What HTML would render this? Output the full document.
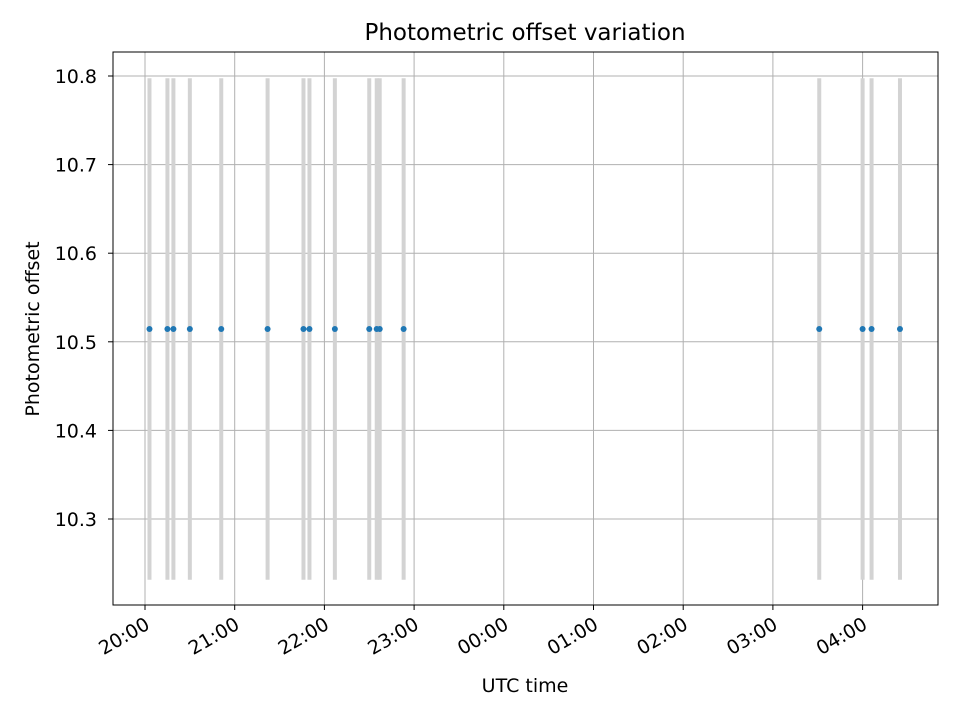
<!DOCTYPE html>
<html><head><meta charset="utf-8"><style>
body{margin:0;background:#fff;}
svg text{font-family:"DejaVu Sans","Liberation Sans",sans-serif;}
</style></head><body>
<svg id="chart" width="960" height="720" viewBox="0 0 960 720">
<rect x="0" y="0" width="960" height="720" fill="#fff"/>
<text x="525" y="40" text-anchor="middle" font-size="23">Photometric offset variation</text>
<g id="grid"></g><g id="marks"></g><g id="axes"></g>
<text x="525" y="692" text-anchor="middle" font-size="19">UTC time</text>
<text transform="translate(39,329) rotate(-90)" text-anchor="middle" font-size="19">Photometric offset</text>
</svg>
<script>
// minutes after 20:00 UTC
const times=[3,15,19,30,51,82,106,110,127,150,155,157,173,451,480,486,505];
const offsets=[10.5145,10.5145,10.5145,10.5145,10.5145,10.5145,10.5145,10.5145,10.5145,10.5145,10.5145,10.5145,10.5145,10.5145,10.5145,10.5145,10.5145];
const errors=[0.283,0.283,0.283,0.283,0.283,0.283,0.283,0.283,0.283,0.283,0.283,0.283,0.283,0.283,0.283,0.283,0.283];
const xTickMinutes=[0,60,120,180,240,300,360,420,480];
const xTickLabels=["20:00","21:00","22:00","23:00","00:00","01:00","02:00","03:00","04:00"];
const yTicks=[10.3,10.4,10.5,10.6,10.7,10.8];

const L=113,R=938,T=52,B=605;
const pxPerMin=89.7/60;
const X=m=>145+m*pxPerMin;
const Y=v=>519-(v-10.3)*886;
const NS="http://www.w3.org/2000/svg";
function mk(tag,attrs,parent){const e=document.createElementNS(NS,tag);for(const k in attrs)e.setAttribute(k,attrs[k]);parent.appendChild(e);return e;}
const grid=document.getElementById('grid'),marks=document.getElementById('marks'),axes=document.getElementById('axes');
xTickMinutes.forEach((m,i)=>{
 const x=X(m);
 const g=mk('line',{x1:x,x2:x,y1:T,y2:B,stroke:'#b0b0b0','stroke-width':1},grid);
 
 
 mk('line',{x1:x,x2:x,y1:B,y2:B+5,stroke:'#000'},axes);
 const ax=x+6, ay=B+23;
 const t=mk('text',{x:ax,y:ay,'text-anchor':'end','font-size':19,transform:`rotate(-30 ${ax} ${ay})`},axes);
 t.textContent=xTickLabels[i];
 
 
});
yTicks.forEach(v=>{
 const y=Y(v);
 const g=mk('line',{x1:L,x2:R,y1:y,y2:y,stroke:'#b0b0b0','stroke-width':1},grid);
 
 
 mk('line',{x1:L-5,x2:L,y1:y,y2:y,stroke:'#000'},axes);
 const t=mk('text',{x:L-16,y:y+7,'text-anchor':'end','font-size':19},axes);
 t.textContent=v.toFixed(1);
 
 
});
times.forEach((m,i)=>{
 const x=X(m);
 const eb=mk('line',{x1:x,x2:x,y1:Y(offsets[i]+errors[i]),y2:Y(offsets[i]-errors[i]),stroke:'#d3d3d3','stroke-width':4},marks);
 
 
});
times.forEach((m,i)=>{
 const p=mk('circle',{cx:X(m),cy:Y(offsets[i]),r:3,fill:'#1f77b4'},marks);
 
 
});
const f=mk('rect',{x:L,y:T,width:R-L,height:B-T,fill:'none',stroke:'#000','stroke-width':1},axes);


</script>
</body></html>
